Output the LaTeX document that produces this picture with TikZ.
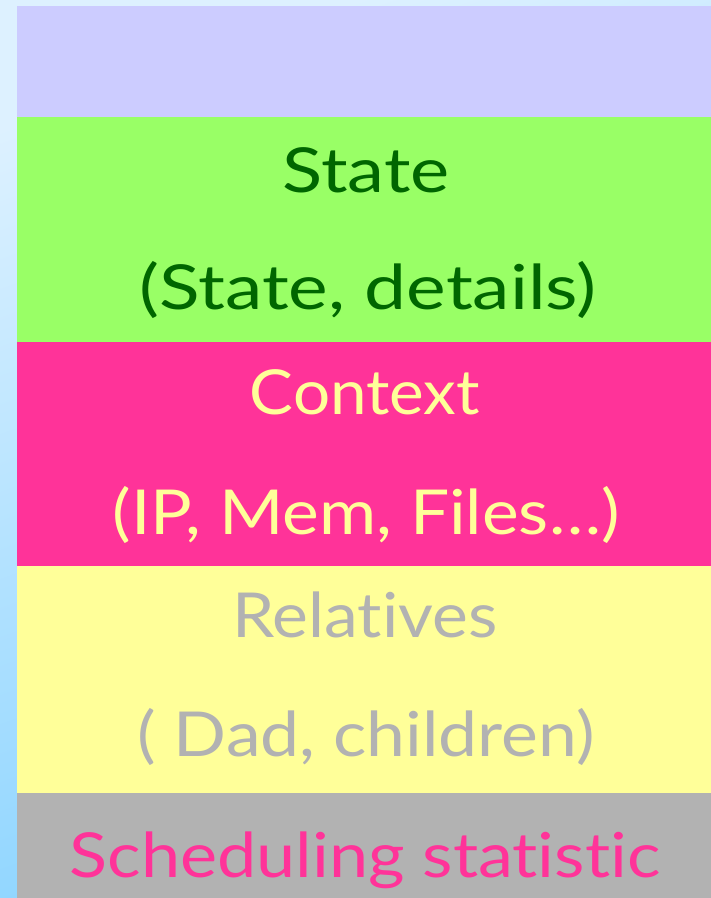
\documentclass[tikz,border=0pt]{standalone}
\usepackage{fontspec}
\setmainfont{Lato}[Ligatures={NoCommon,NoRare}]
\usepackage{graphicx}
\definecolor{bglight}{HTML}{DDF1FF}
\definecolor{bgdark}{HTML}{86D2FF}
\definecolor{lav}{HTML}{CCCCFF}
\definecolor{grn}{HTML}{99FF66}
\definecolor{pnk}{HTML}{FF3399}
\definecolor{ylw}{HTML}{FFFF99}
\definecolor{gry}{HTML}{B2B2B2}
\definecolor{dgrn}{HTML}{006600}
\newcommand\fitw[2]{\resizebox{#1}{\height}{#2}}
\tikzset{
  band/.style={draw=none},
  lbl/.style={anchor=base, inner sep=0pt, font=\fontsize{62}{62}\selectfont},
}
\begin{document}
\begin{tikzpicture}[x=1pt,y=1pt]
\useasboundingbox (0,0) rectangle (711,898);
\shade[shading=axis, top color=bglight, bottom color=bgdark, shading angle=20] (0,0) rectangle (711,898);
\fill[band, lav] (17,781) rectangle (711,892);
\fill[band, grn] (17,556) rectangle (711,781);
\fill[band, pnk] (17,332) rectangle (711,556);
\fill[band, ylw] (17,105) rectangle (711,332);
\fill[band, gry] (17,0) rectangle (711,105);
\node[lbl, text=dgrn] (s1) at (366,705) {\fitw{167pt}{State}};
\node[lbl, text=dgrn] (s2) at (368,588) {\fitw{457pt}{(State, details)}};
\node[lbl, text=ylw] (c1) at (365,483) {\fitw{230pt}{Context}};
\node[lbl, text=ylw] (c2) at (366,363) {\fitw{507pt}{(IP, Mem, Files…)}};
\node[lbl, text=gry] (r1) at (365,260) {\fitw{265pt}{Relatives}};
\node[lbl, text=gry] (r2) at (366,141) {\fitw{457pt}{( Dad, children)}};
\node[lbl, text=pnk] (t1) at (365,21) {\fitw{591pt}{Scheduling statistic}};
\end{tikzpicture}
\end{document}
